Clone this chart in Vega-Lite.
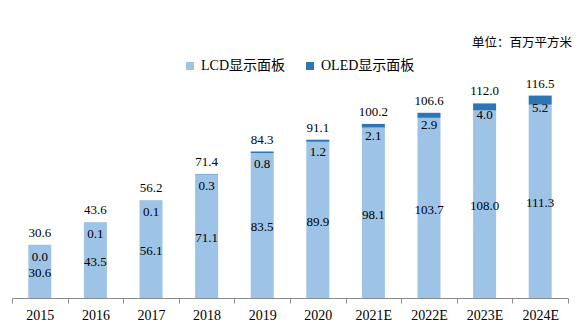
{
  "$schema": "https://vega.github.io/schema/vega-lite/v6.json",
  "autosize": "none",
  "width": 556,
  "height": 278,
  "padding": {"left": 12, "top": 20, "right": 16, "bottom": 30},
  "background": "white",
  "title": {
    "text": "单位：百万平方米",
    "orient": "top",
    "anchor": "end",
    "frame": "group",
    "font": "Noto Sans CJK SC",
    "fontSize": 12.5,
    "fontWeight": "normal",
    "color": "#000000",
    "dy": 33,
    "dx": 4
  },
  "data": {
    "values": [
      {"year": "2015", "lcd": 30.6, "oled": 0.0, "total": 30.6},
      {"year": "2016", "lcd": 43.5, "oled": 0.1, "total": 43.6},
      {"year": "2017", "lcd": 56.1, "oled": 0.1, "total": 56.2},
      {"year": "2018", "lcd": 71.1, "oled": 0.3, "total": 71.4},
      {"year": "2019", "lcd": 83.5, "oled": 0.8, "total": 84.3},
      {"year": "2020", "lcd": 89.9, "oled": 1.2, "total": 91.1},
      {"year": "2021E", "lcd": 98.1, "oled": 2.1, "total": 100.2},
      {"year": "2022E", "lcd": 103.7, "oled": 2.9, "total": 106.6},
      {"year": "2023E", "lcd": 108.0, "oled": 4.0, "total": 112.0},
      {"year": "2024E", "lcd": 111.3, "oled": 5.2, "total": 116.5}
    ]
  },
  "encoding": {
    "x": {
      "field": "year",
      "type": "ordinal",
      "sort": null,
      "scale": {"paddingInner": 0, "paddingOuter": 0},
      "axis": {
        "title": null,
        "labelAngle": 0,
        "labelFont": "Liberation Serif",
        "labelFontSize": 14,
        "labelColor": "#000000",
        "labelPadding": 5,
        "domainColor": "#8C8C8C",
        "tickColor": "#8C8C8C",
        "tickBand": "extent",
        "tickSize": 5,
        "grid": false
      }
    }
  },
  "layer": [
    {
      "transform": [{"fold": ["lcd", "oled"], "as": ["kind", "value"]}],
      "mark": {"type": "bar", "size": 23},
      "encoding": {
        "y": {
          "field": "value",
          "type": "quantitative",
          "stack": "zero",
          "scale": {"domain": [0, 160], "nice": false},
          "axis": null
        },
        "color": {
          "field": "kind",
          "type": "nominal",
          "scale": {"domain": ["lcd", "oled"], "range": ["#9DC3E6", "#2E75B6"]},
          "legend": {
            "title": null,
            "orient": "none",
            "direction": "horizontal",
            "legendX": 171,
            "legendY": 39,
            "padding": 0,
            "symbolType": "square",
            "symbolSize": 64,
            "symbolStrokeWidth": 0,
            "labelOffset": 4,
            "columnPadding": 18,
            "labelFont": "Liberation Serif, Noto Sans CJK SC",
            "labelFontSize": 14,
            "labelColor": "#000000",
            "labelExpr": "datum.label == 'lcd' ? 'LCD显示面板' : 'OLED显示面板'"
          }
        },
        "order": {"field": "kind", "sort": "ascending"}
      }
    },
    {
      "mark": {"type": "text", "dy": -12, "baseline": "middle", "font": "Liberation Serif", "fontSize": 13, "color": "#000000"},
      "encoding": {
        "y": {"field": "total", "type": "quantitative", "scale": {"domain": [0, 160], "nice": false}, "axis": null},
        "text": {"field": "total", "type": "quantitative", "format": ".1f"}
      }
    },
    {
      "mark": {"type": "text", "dy": 12, "baseline": "middle", "font": "Liberation Serif", "fontSize": 13, "color": "#000000"},
      "encoding": {
        "y": {"field": "total", "type": "quantitative", "scale": {"domain": [0, 160], "nice": false}, "axis": null},
        "text": {"field": "oled", "type": "quantitative", "format": ".1f"}
      }
    },
    {
      "mark": {"type": "text", "dy": 2, "baseline": "middle", "font": "Liberation Serif", "fontSize": 13, "color": "#000000"},
      "encoding": {
        "y": {"field": "lcd", "type": "quantitative", "scale": {"domain": [0, 320], "nice": false}, "axis": null},
        "text": {"field": "lcd", "type": "quantitative", "format": ".1f"}
      }
    }
  ],
  "resolve": {"scale": {"y": "independent"}},
  "config": {"view": {"stroke": null}}
}
